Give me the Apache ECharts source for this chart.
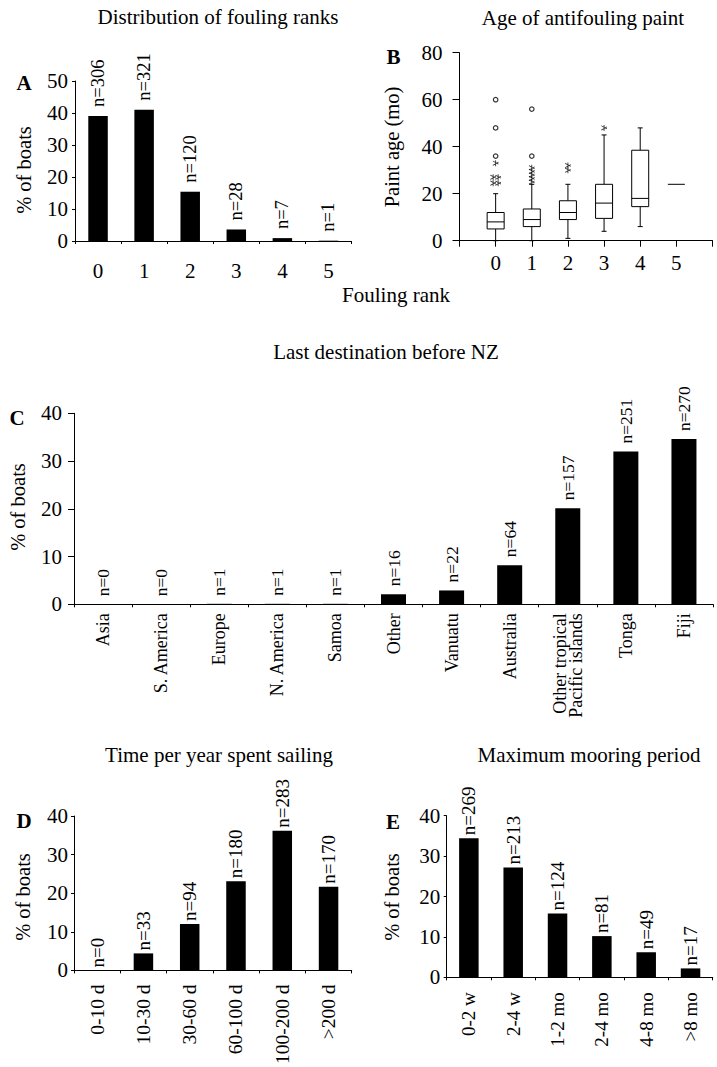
<!DOCTYPE html>
<html>
<head>
<meta charset="utf-8">
<script src="https://cdn.jsdelivr.net/npm/echarts@6/dist/echarts.min.js"></script>
<style>
html,body{margin:0;padding:0;background:#fff;}
#chart{width:717px;height:1067px;}
</style>
</head>
<body>
<div id="chart"></div>
<script>
// ---- Panel A: distribution of fouling ranks ----
const rankCats = ['0', '1', '2', '3', '4', '5'];
const rankPct = [39.1, 41.0, 15.4, 3.6, 0.9, 0.1];
const rankN = [306, 321, 120, 28, 7, 1];

// ---- Panel B: age of antifouling paint (box plots by fouling rank) ----
const paintRank = [0, 1, 2, 3, 4, 5];
const paintMin = [0, 0, 1, 4, 6, 24];
const paintQ1 = [5, 6, 9, 9.5, 14.5, 24];
const paintMedian = [8, 9, 12, 16, 18, 24];
const paintQ3 = [12, 13.5, 17, 24, 38.5, 24];
const paintMax = [20, 24, 24, 45, 48, 24];
const paintExtremes = [[0, 60], [0, 48], [0, 36], [1, 56], [1, 36]];
const paintOutliers = [[0, 33], [0, 27], [0, 27], [0, 24.5], [0, 24.5],
  [1, 31], [1, 29.5], [1, 28], [1, 26.5], [1, 25], [2, 32], [2, 30], [3, 48]];
const paintTicks = [-1, 0, 1, 2, 3, 4, 5, 6];

// ---- Panel C: last destination before NZ ----
const destCats = ['Asia', 'S. America', 'Europe', 'N. America', 'Samoa', 'Other', 'Vanuatu',
  'Australia', 'Other tropical\nPacific islands', 'Tonga', 'Fiji'];
const destPct = [0, 0, 0.1, 0.1, 0.1, 2.1, 2.9, 8.2, 20.1, 32.0, 34.6];
const destN = [0, 0, 1, 1, 1, 16, 22, 64, 157, 251, 270];

// ---- Panel D: time per year spent sailing ----
const sailCats = ['0-10 d', '10-30 d', '30-60 d', '60-100 d', '100-200 d', '>200 d'];
const sailPct = [0, 4.4, 12.0, 23.1, 36.2, 21.7];
const sailN = [0, 33, 94, 180, 283, 170];

// ---- Panel E: maximum mooring period ----
const moorCats = ['0-2 w', '2-4 w', '1-2 mo', '2-4 mo', '4-8 mo', '>8 mo'];
const moorPct = [34.4, 27.2, 15.8, 10.2, 6.2, 2.2];
const moorN = [269, 213, 124, 81, 49, 17];

const SERIF = '"Liberation Serif", "Times New Roman", Times, serif';
const BLACK = '#000';

const chart = echarts.init(document.getElementById('chart'), null, {renderer: 'svg'});

function catX(gi, data, opt) {
  return Object.assign({
    type: 'category', gridIndex: gi, data: data, boundaryGap: true,
    axisLine: {show: true, onZero: false, lineStyle: {color: BLACK, width: 1}},
    axisTick: {show: true, length: 3, lineStyle: {color: BLACK}},
    axisLabel: {color: BLACK, fontFamily: SERIF, fontSize: 21, margin: 19, interval: 0},
    splitLine: {show: false}
  }, opt || {});
}
function valY(gi, max, interval, tickLen, margin) {
  return {
    type: 'value', gridIndex: gi, min: 0, max: max, interval: interval,
    axisLine: {show: true, onZero: false, lineStyle: {color: BLACK, width: 1}},
    axisTick: {show: true, length: tickLen, lineStyle: {color: BLACK}},
    axisLabel: {color: BLACK, fontFamily: SERIF, fontSize: 21, margin: margin},
    splitLine: {show: false}
  };
}
function barSeries(gi, values, counts, width, fontSize, dist) {
  return {
    type: 'bar', xAxisIndex: gi, yAxisIndex: gi, data: values, barWidth: width,
    itemStyle: {color: BLACK}, silent: true,
    label: {
      show: true, position: 'top', rotate: 90, align: 'left', verticalAlign: 'middle',
      distance: dist, color: BLACK, fontFamily: SERIF, fontSize: fontSize,
      formatter: p => 'n=' + counts[p.dataIndex]
    }
  };
}

// asterisk symbol
const STAR = 'path://M4.3,0L5.7,0L5.7,10L4.3,10Z M0.2,2L0.9,0.8L9.8,6L9.1,7.2Z M0.2,8L9.1,2.8L9.8,4L0.9,9.2Z';

function withOffsets(points) {
  const seen = {};
  const counts = {};
  points.forEach(p => { const k = p[0] + '_' + p[1]; counts[k] = (counts[k] || 0) + 1; });
  return points.map(p => {
    const k = p[0] + '_' + p[1];
    const i = seen[k] || 0; seen[k] = i + 1;
    const n = counts[k];
    return {value: p, symbolOffset: [(i - (n - 1) / 2) * 5, 0]};
  });
}

const boxData = paintRank.map((r, i) => [r, paintMin[i], paintQ1[i], paintMedian[i], paintQ3[i], paintMax[i]]);

const text = (t, x, y, size, opts) => Object.assign({
  type: 'text', x: x, y: y, silent: true,
  style: {text: t, fill: BLACK, font: (opts && opts.bold ? 'bold ' : '') + size + 'px ' + SERIF,
    align: 'center', verticalAlign: 'middle'}
}, opts && opts.rot ? {rotation: Math.PI / 2} : {});

const option = {
  backgroundColor: '#fff',
  animation: false,
  grid: [
    {left: 75, top: 81, width: 276.5, height: 160},
    {left: 459.5, top: 52.7, width: 253, height: 188},
    {left: 74, top: 413.3, width: 639, height: 191},
    {left: 74, top: 816, width: 277.7, height: 161.7},
    {left: 446.7, top: 815.7, width: 266, height: 161.6}
  ],
  xAxis: [
    catX(0, rankCats),
    {
      type: 'value', gridIndex: 1, min: paintTicks[0], max: paintTicks[paintTicks.length - 1], interval: 1,
      axisLine: {show: true, onZero: false, lineStyle: {color: BLACK, width: 1}},
      axisTick: {show: true, length: 6, lineStyle: {color: BLACK}},
      axisLabel: {color: BLACK, fontFamily: SERIF, fontSize: 21, margin: 12, showMinLabel: true, showMaxLabel: true,
        formatter: v => (paintRank.indexOf(v) >= 0 ? String(v) : '')},
      splitLine: {show: false}
    },
    catX(2, destCats, {axisLabel: {color: BLACK, fontFamily: SERIF, fontSize: 18, margin: 9, interval: 0, rotate: 90, lineHeight: 16}}),
    catX(3, sailCats, {axisLabel: {color: BLACK, fontFamily: SERIF, fontSize: 19.5, margin: 14, interval: 0, rotate: 90}}),
    catX(4, moorCats, {axisLabel: {color: BLACK, fontFamily: SERIF, fontSize: 19, margin: 15, interval: 0, rotate: 90}})
  ],
  yAxis: [
    valY(0, 50, 10, 3, 7),
    valY(1, 80, 20, 7, 17),
    valY(2, 40, 10, 6, 12),
    valY(3, 40, 10, 3, 6),
    valY(4, 40, 10, 3, 6.5)
  ],
  series: [
    barSeries(0, rankPct, rankN, 19.5, 18.5, 9),
    {
      type: 'custom', xAxisIndex: 1, yAxisIndex: 1, data: boxData, silent: true,
      renderItem: function (params, api) {
        const x = api.value(0);
        const pMin = api.coord([x, api.value(1)]);
        const pQ1 = api.coord([x, api.value(2)]);
        const pMed = api.coord([x, api.value(3)]);
        const pQ3 = api.coord([x, api.value(4)]);
        const pMax = api.coord([x, api.value(5)]);
        const cx = pMed[0];
        const half = 8.5, cap = 2.5;
        const ls = {stroke: BLACK, lineWidth: 1, fill: null};
        const children = [];
        if (pQ1[1] - pQ3[1] > 0.5) {
          children.push({type: 'line', shape: {x1: cx, y1: pQ3[1], x2: cx, y2: pMax[1]}, style: ls});
          children.push({type: 'line', shape: {x1: cx - cap, y1: pMax[1], x2: cx + cap, y2: pMax[1]}, style: ls});
          children.push({type: 'line', shape: {x1: cx, y1: pQ1[1], x2: cx, y2: pMin[1]}, style: ls});
          children.push({type: 'line', shape: {x1: cx - cap, y1: pMin[1], x2: cx + cap, y2: pMin[1]}, style: ls});
          children.push({type: 'rect', shape: {x: cx - half, y: pQ3[1], width: 2 * half, height: pQ1[1] - pQ3[1]},
            style: {stroke: BLACK, lineWidth: 1, fill: '#fff'}});
        }
        children.push({type: 'line', shape: {x1: cx - half, y1: pMed[1], x2: cx + half, y2: pMed[1]}, style: ls});
        return {type: 'group', children: children};
      }
    },
    {
      type: 'scatter', xAxisIndex: 1, yAxisIndex: 1, data: paintExtremes, silent: true,
      symbol: 'circle', symbolSize: 4.5,
      itemStyle: {color: '#fff', borderColor: BLACK, borderWidth: 1.2}
    },
    {
      type: 'scatter', xAxisIndex: 1, yAxisIndex: 1, data: withOffsets(paintOutliers), silent: true,
      symbol: STAR, symbolSize: 6, itemStyle: {color: BLACK}
    },
    barSeries(2, destPct, destN, 25, 17.5, 8),
    barSeries(3, sailPct, sailN, 19.5, 19, 3),
    barSeries(4, moorPct, moorN, 19.5, 19, 3)
  ],
  graphic: [
    text('Distribution of fouling ranks', 218, 17, 21),
    text('Age of antifouling paint', 583, 18, 21),
    text('Last destination before NZ', 386, 352, 21),
    text('Time per year spent sailing', 219, 755, 21),
    text('Maximum mooring period', 589, 755, 21),
    text('Fouling rank', 396, 295, 21),
    text('A', 24, 83, 21, {bold: true}),
    text('B', 393.5, 57, 21, {bold: true}),
    text('C', 17, 418, 21, {bold: true}),
    text('D', 24, 821, 21, {bold: true}),
    text('E', 393, 822, 21, {bold: true}),
    text('% of boats', 24, 170, 20.5, {rot: true}),
    text('Paint age (mo)', 392, 147, 20.5, {rot: true}),
    text('% of boats', 18, 507, 20.5, {rot: true}),
    text('% of boats', 23, 897, 20.5, {rot: true}),
    text('% of boats', 392, 897, 20.5, {rot: true})
  ]
};
chart.setOption(option);
</script>
</body>
</html>
